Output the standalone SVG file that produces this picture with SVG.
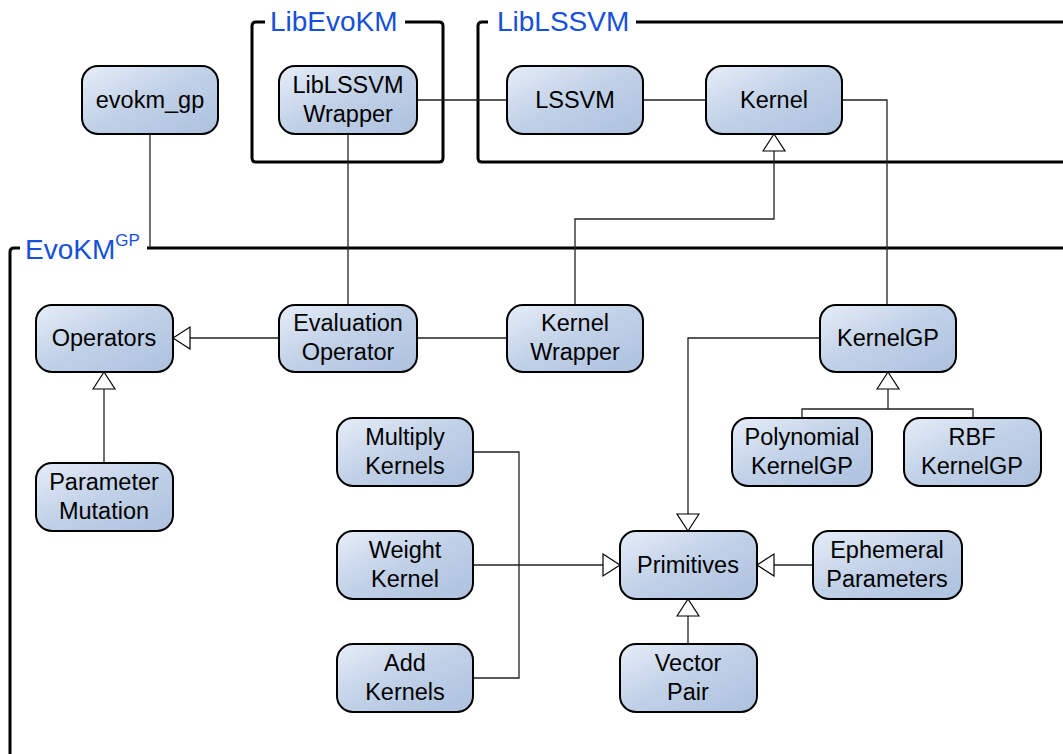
<svg xmlns="http://www.w3.org/2000/svg" width="1063" height="754" viewBox="0 0 1063 754">
<defs>
<linearGradient id="g" x1="0" y1="0" x2="1" y2="1">
<stop offset="0" stop-color="#e6edf8"/>
<stop offset="0.5" stop-color="#c0d0e7"/>
<stop offset="1" stop-color="#adc1de"/>
</linearGradient>
<marker id="tri" markerWidth="20" markerHeight="26" refX="18" refY="12" orient="auto" markerUnits="userSpaceOnUse">
<path d="M1,1 L18,12 L1,23 Z" fill="#fff" stroke="#000" stroke-width="1.2"/>
</marker>
</defs>
<style>
.n rect{fill:url(#g);stroke:#000;stroke-width:2}
.n text{font-family:"Liberation Sans",Arial,sans-serif;font-size:23.5px;fill:#000;text-anchor:middle}
.frame{fill:none;stroke:#000;stroke-width:3}
.lbl{font-family:"Liberation Sans",Arial,sans-serif;font-size:28px;fill:#1650d8}
.c{fill:none;stroke:#222;stroke-width:1.3}
</style>
<rect width="1063" height="754" fill="#fff"/>
<g id="frames">
<path class="frame" d="M265 22 H256 Q252 22 252 26 V158 Q252 162 256 162 H439 Q443 162 443 158 V26 Q443 22 439 22 H405"/>
<text class="lbl" x="270" y="31">LibEvoKM</text>
<path class="frame" d="M488 22 H482 Q478 22 478 26 V158 Q478 162 482 162 H1063 M636 22 H1063"/>
<text class="lbl" x="497" y="31">LibLSSVM</text>
<path class="frame" d="M20 248 H14 Q10 248 10 252 V754 M147 248 H1063"/>
<text class="lbl" x="25" y="259">EvoKM<tspan font-size="17" dy="-13">GP</tspan></text>
</g>
<g id="connectors">
<path class="c" stroke="#666" d="M150 134 V248"/>
<path class="c" d="M417 100 H507"/>
<path class="c" d="M643 100 H706"/>
<path class="c" d="M842 100 H887 V305"/>
<path class="c" d="M348 134 V305"/>
<path class="c" marker-end="url(#tri)" d="M279 338 H173"/>
<path class="c" d="M507 338 H417"/>
<path class="c" marker-end="url(#tri)" d="M575 305 V219 H774 V134"/>
<path class="c" marker-end="url(#tri)" d="M820 338 H688 V531"/>
<path class="c" marker-end="url(#tri)" d="M104 463 V372"/>
<path class="c" d="M802 418 V409 H973 V418"/>
<path class="c" marker-end="url(#tri)" d="M888 409 V372"/>
<path class="c" d="M473 452 H519 V678 H473"/>
<path class="c" marker-end="url(#tri)" d="M473 565 H620"/>
<path class="c" marker-end="url(#tri)" d="M813 565 H757"/>
<path class="c" marker-end="url(#tri)" d="M688 644 V599"/>
</g>
<g id="evokm_gp" class="n"><rect x="82" y="66" width="136" height="68" rx="16"/><text x="150" y="108">evokm_gp</text></g>
<g id="wrapper" class="n"><rect x="279" y="66" width="138" height="68" rx="16"/><text x="348" y="93">LibLSSVM</text><text x="348" y="122">Wrapper</text></g>
<g id="lssvm" class="n"><rect x="507" y="66" width="136" height="68" rx="16"/><text x="575" y="108">LSSVM</text></g>
<g id="kernel" class="n"><rect x="706" y="66" width="136" height="68" rx="16"/><text x="774" y="108">Kernel</text></g>
<g id="operators" class="n"><rect x="36" y="305" width="137" height="67" rx="16"/><text x="104" y="346">Operators</text></g>
<g id="evalop" class="n"><rect x="279" y="305" width="138" height="67" rx="16"/><text x="348" y="331">Evaluation</text><text x="348" y="360">Operator</text></g>
<g id="kernelwrapper" class="n"><rect x="507" y="305" width="136" height="67" rx="16"/><text x="575" y="331">Kernel</text><text x="575" y="360">Wrapper</text></g>
<g id="kernelgp" class="n"><rect x="820" y="305" width="136" height="67" rx="16"/><text x="888" y="346">KernelGP</text></g>
<g id="parammut" class="n"><rect x="36" y="463" width="137" height="68" rx="16"/><text x="104" y="490">Parameter</text><text x="104" y="519">Mutation</text></g>
<g id="multiply" class="n"><rect x="337" y="418" width="136" height="68" rx="16"/><text x="405" y="445">Multiply</text><text x="405" y="474">Kernels</text></g>
<g id="weight" class="n"><rect x="337" y="531" width="136" height="68" rx="16"/><text x="405" y="558">Weight</text><text x="405" y="587">Kernel</text></g>
<g id="add" class="n"><rect x="337" y="644" width="136" height="68" rx="16"/><text x="405" y="671">Add</text><text x="405" y="700">Kernels</text></g>
<g id="polynomial" class="n"><rect x="732" y="418" width="140" height="68" rx="16"/><text x="802" y="445">Polynomial</text><text x="802" y="474">KernelGP</text></g>
<g id="rbf" class="n"><rect x="904" y="418" width="137" height="68" rx="16"/><text x="972" y="445">RBF</text><text x="972" y="474">KernelGP</text></g>
<g id="primitives" class="n"><rect x="620" y="531" width="137" height="68" rx="16"/><text x="688" y="573">Primitives</text></g>
<g id="ephemeral" class="n"><rect x="813" y="531" width="149" height="68" rx="16"/><text x="887" y="558">Ephemeral</text><text x="887" y="587">Parameters</text></g>
<g id="vectorpair" class="n"><rect x="620" y="644" width="137" height="68" rx="16"/><text x="688" y="671">Vector</text><text x="688" y="700">Pair</text></g>
</svg>
